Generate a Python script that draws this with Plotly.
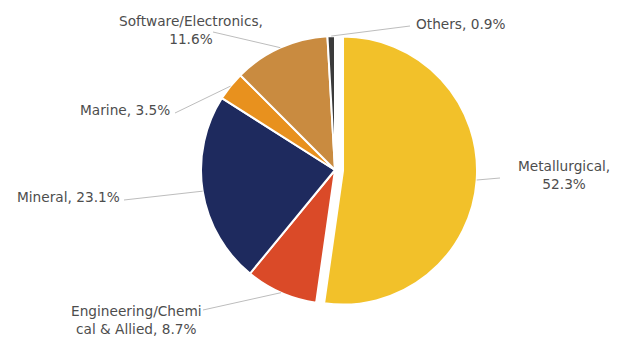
import math
import plotly.graph_objects as go

# Sector shares (%)
sectors = ["Metallurgical", "Engineering/Chemical & Allied", "Mineral", "Marine",
           "Software/Electronics", "Others"]
shares = [52.3, 8.7, 23.1, 3.5, 11.6, 0.9]
label_texts = ["Metallurgical,<br>52.3%", "Engineering/Chemi<br>cal & Allied, 8.7%",
               "Mineral, 23.1%", "Marine, 3.5%", "Software/Electronics,<br>11.6%",
               "Others, 0.9%"]
colors = ["#F2C12A", "#DA4A28", "#1E2A5E", "#E8911E", "#C98B40", "#3B3B3B"]
pulls = [0.06, 0, 0, 0, 0, 0]

W, H = 621, 339
CX, CY, R = 335, 170, 134          # pie centre / radius in pixels
max_pull = max(pulls)
half = R * (1 + max_pull)

# label placement: (x, y, xanchor, leader-line end x, leader-line end y)
label_pos = [
    (564, 175, "center", 500, 178),
    (136, 320, "center", 203, 310),
    (122, 197, "right", 124, 200),
    (172, 110, "right", 175, 113),
    (191, 30, "center", 213, 32),
    (414, 24, "left", 410, 26),
]

fig = go.Figure()
fig.add_trace(go.Pie(
    labels=sectors, values=shares, sort=False, direction="clockwise", rotation=0,
    marker=dict(colors=colors, line=dict(color="white", width=2)),
    pull=pulls, textinfo="none", hoverinfo="label+percent", showlegend=False,
    domain=dict(x=[(CX - half) / W, (CX + half) / W],
                y=[1 - (CY + half) / H, 1 - (CY - half) / H]),
))

total = sum(shares)
cum = 0.0
shapes, annotations = [], []
for v, txt, p, (lx, ly, anchor, ex, ey) in zip(shares, label_texts, pulls, label_pos):
    mid = (cum + v / 2) / total * 2 * math.pi
    cum += v
    rr = R * (1 + p)
    px = CX + rr * math.sin(mid)
    py = CY - rr * math.cos(mid)
    shapes.append(dict(type="line", xref="x", yref="y", x0=px, y0=py, x1=ex, y1=ey,
                       line=dict(color="#BDBDBD", width=1)))
    annotations.append(dict(x=lx, y=ly, xref="x", yref="y", text=txt, showarrow=False,
                            xanchor=anchor, yanchor="middle", align="center",
                            font=dict(family="DejaVu Sans", size=13.7, color="#4D4D4D")))

fig.update_layout(
    width=W, height=H, margin=dict(l=0, r=0, t=0, b=0),
    paper_bgcolor="white", plot_bgcolor="rgba(0,0,0,0)",
    xaxis=dict(range=[0, W], visible=False, domain=[0, 1], fixedrange=True),
    yaxis=dict(range=[H, 0], visible=False, domain=[0, 1], fixedrange=True),
    shapes=shapes, annotations=annotations,
)
fig.write_html("out.html")
